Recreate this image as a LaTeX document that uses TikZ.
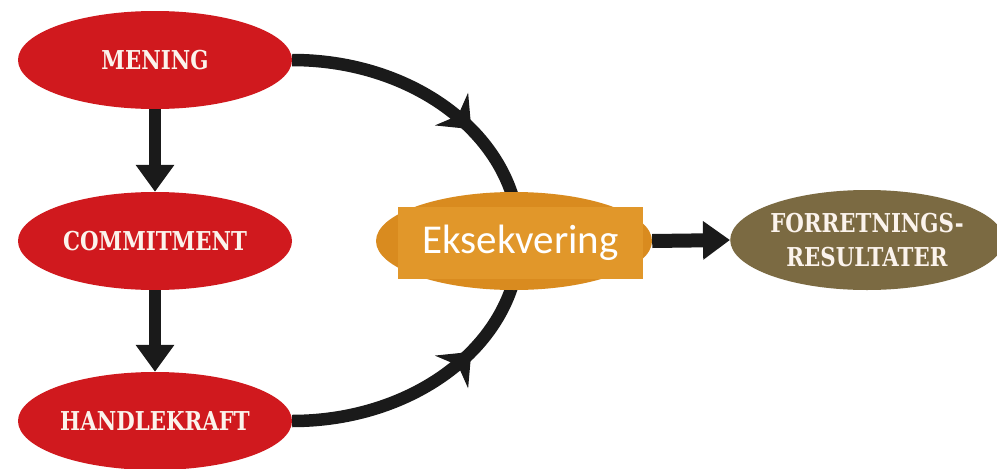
\documentclass[tikz,border=0pt]{standalone}
\usepackage{fontspec}
\usetikzlibrary{arrows.meta,decorations.markings,shapes.geometric}
\newfontfamily\slabfont{DejaVu Serif}[FakeStretch=0.82]
\newfontfamily\calfont{Carlito}
\definecolor{redfill}{HTML}{D0191E}
\definecolor{orangefill}{HTML}{D98B1F}
\definecolor{rectfill}{HTML}{E1972A}
\definecolor{brownfill}{HTML}{7B6A42}
\definecolor{creamtext}{HTML}{FBF3EC}
\definecolor{linecol}{HTML}{1A1A1A}
\tikzset{
  redell/.style={ellipse, fill=redfill, minimum width=274pt, minimum height=98pt, inner sep=0pt,
    text=creamtext, font=\slabfont\bfseries\fontsize{26}{28}\selectfont},
  vline/.style={draw=linecol, line width=12pt, -{Triangle[length=27pt,width=37pt]}},
  curvline/.style={draw=linecol, line width=12.5pt, postaction={decorate},
    decoration={markings, mark=at position 0.68 with {\arrow{Stealth[length=28pt,width=46pt,inset=9pt]}}}},
}
\begin{document}
\begin{tikzpicture}[x=1pt,y=-1pt]
\useasboundingbox (0,0) rectangle (997,469);
\fill[white] (0,0) rectangle (997,469);
\node[redell] (mening) at (155,60) {MENING};
\node[redell] (commit) at (155,241) {COMMITMENT};
\node[redell] (handle) at (155,421) {HANDLEKRAFT};
\coordinate (ekstop) at (516,209);
\coordinate (eksbot) at (516,272);
\draw[curvline] (mening.east) .. controls +(111,0) and +(-19,-86) .. (ekstop);
\draw[curvline] (handle.east) .. controls +(111,0) and +(-19,86) .. (eksbot);
\node[ellipse, fill=orangefill, minimum width=276pt, minimum height=98pt, inner sep=0pt] (eks) at (514,241) {};
\node[ellipse, fill=brownfill, minimum width=264pt, minimum height=100pt, inner sep=0pt,
  text=creamtext, font=\slabfont\bfseries\fontsize{26}{34}\selectfont, align=center] (res) at (867,240) {FORRETNINGS-\\RESULTATER};
\draw[vline] (mening.south) -- (commit.north);
\draw[vline] (commit.south) -- (handle.north);
\draw[draw=linecol, line width=14pt, -{Triangle[length=27pt,width=37pt]}] (eks.east) -- (res.west);
\node[fill=rectfill, minimum width=245pt, minimum height=72pt, inner sep=0pt, text=white,
  font=\calfont\fontsize{41}{45}\selectfont] (eksrect) at (520.5,243) {Eksekvering};
\end{tikzpicture}
\end{document}
